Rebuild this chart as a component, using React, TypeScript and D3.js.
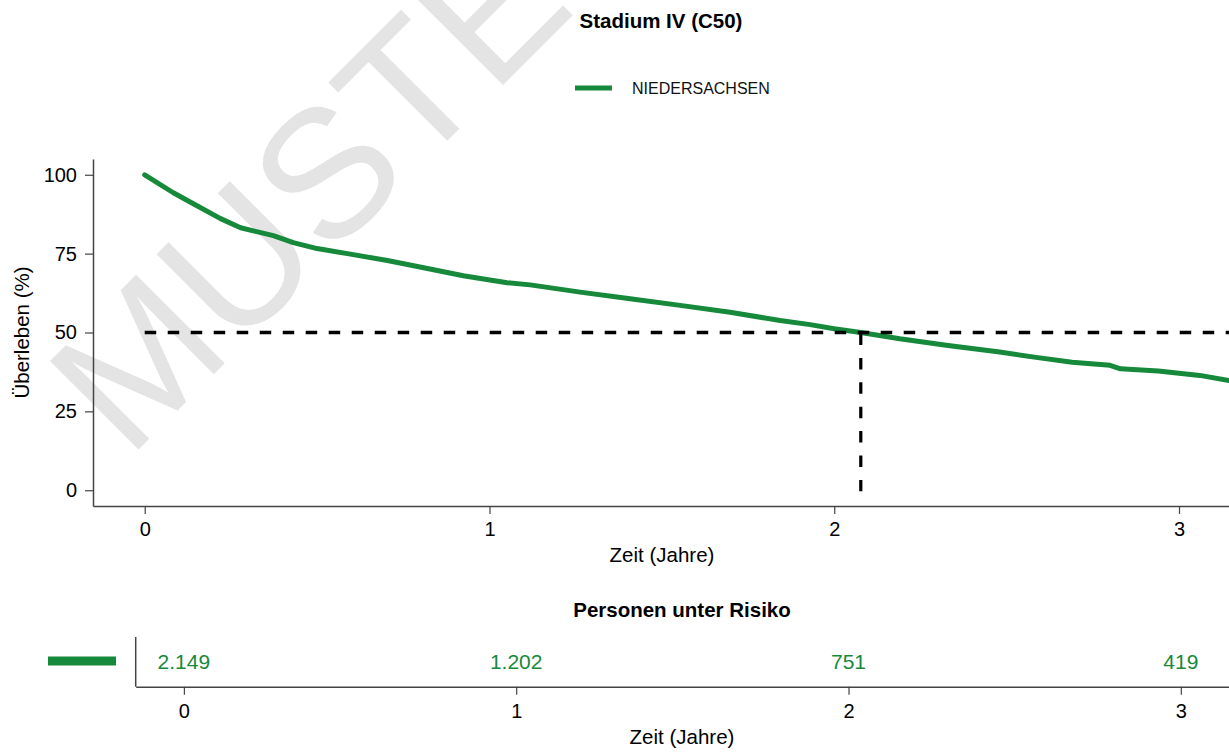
import { useEffect, useRef } from "react";
import * as d3 from "d3";

const WIDTH = 1229;
const HEIGHT = 752;
const GREEN = "#16893a";
const AXIS = "#444";
const FONT = "'Liberation Sans', Arial, Helvetica, sans-serif";

// Kaplan-Meier curve (years, % surviving)
const times = [
  0, 0.083, 0.141, 0.22, 0.278, 0.373, 0.431, 0.5, 0.588, 0.704, 0.82, 0.924, 1.051, 1.118, 1.263,
  1.408, 1.553, 1.698, 1.843, 1.93, 2.0, 2.077, 2.19, 2.33, 2.48, 2.58, 2.69, 2.8, 2.83, 2.94, 3.06, 3.145,
];
const survival = [
  100, 94.3, 90.8, 86.1, 83.2, 80.7, 78.5, 76.6, 75.0, 72.8, 70.3, 68.0, 65.8, 65.1, 62.8,
  60.7, 58.6, 56.4, 53.8, 52.5, 51.2, 50.0, 48.0, 45.9, 43.8, 42.2, 40.6, 39.6, 38.5, 37.8, 36.4, 34.8,
];
const medianTime = 2.077;
const seriesName = "NIEDERSACHSEN";

const xTicks = [0, 1, 2, 3];
const yTicks = [0, 25, 50, 75, 100];
const riskTimes = [0, 1, 2, 3];
const riskCounts = ["2.149", "1.202", "751", "419"];

export default function App() {
  const svgRef = useRef<SVGSVGElement>(null);

  useEffect(() => {
    const svg = d3.select(svgRef.current);
    svg.selectAll("*").remove();

    const x = d3.scaleLinear().domain([-0.15, 3.145]).range([93, WIDTH]);
    const y = d3.scaleLinear().domain([-5, 105]).range([506, 159]);
    const xr = d3.scaleLinear().domain([-0.145, 3.145]).range([135.7, WIDTH]);

    svg.append("rect").attr("width", WIDTH).attr("height", HEIGHT).attr("fill", "#fff");

    // watermark (runs off the top edge, as in the original)
    svg
      .append("text")
      .attr("transform", "translate(128,460) rotate(-45)")
      .attr("font-family", FONT)
      .attr("font-size", 182)
      .attr("fill", "#e4e4e4")
      .text("MUSTER");

    // title + legend
    svg
      .append("text")
      .attr("x", 661)
      .attr("y", 28)
      .attr("text-anchor", "middle")
      .attr("font-family", FONT)
      .attr("font-weight", "bold")
      .attr("font-size", 20.5)
      .text("Stadium IV (C50)");

    svg.append("line")
      .attr("x1", 575).attr("x2", 612).attr("y1", 88).attr("y2", 88)
      .attr("stroke", GREEN).attr("stroke-width", 5);
    svg
      .append("text")
      .attr("x", 632)
      .attr("y", 93.5)
      .attr("font-family", FONT)
      .attr("font-size", 16)
      .attr("fill", "#111")
      .text(seriesName);

    // curve
    const pts = times.map((t, i) => [t, survival[i]] as [number, number]);
    const line = d3
      .line<[number, number]>()
      .x((d) => x(d[0]))
      .y((d) => y(d[1]));
    svg
      .append("path")
      .datum(pts)
      .attr("fill", "none")
      .attr("stroke", GREEN)
      .attr("stroke-width", 5)
      .attr("stroke-linecap", "round")
      .attr("stroke-linejoin", "round")
      .attr("d", line);

    // median lines
    svg.append("line")
      .attr("x1", x(0)).attr("x2", WIDTH).attr("y1", y(50)).attr("y2", y(50))
      .attr("stroke", "#000").attr("stroke-width", 3.7).attr("stroke-dasharray", "11.5,11.5");
    svg.append("line")
      .attr("x1", x(medianTime)).attr("x2", x(medianTime)).attr("y1", y(50) + 1).attr("y2", y(0) + 1)
      .attr("stroke", "#000").attr("stroke-width", 3.2).attr("stroke-dasharray", "11.5,12.9");

    const styleAxis = (a: d3.Selection<SVGGElement, unknown, null, undefined>, fs: number) => {
      a.select(".domain").attr("stroke", AXIS).attr("stroke-width", 1.5);
      a.selectAll(".tick line").attr("stroke", AXIS).attr("stroke-width", 1.2);
      a.selectAll(".tick text").attr("fill", "#000").attr("font-size", fs).attr("font-family", FONT);
    };

    // main axes
    const gx = svg
      .append("g")
      .attr("transform", `translate(0,${y.range()[0]})`)
      .call(d3.axisBottom(x).tickValues(xTicks).tickSize(8).tickPadding(8).tickSizeOuter(0).tickFormat(d3.format("d")));
    styleAxis(gx, 20);

    const gy = svg
      .append("g")
      .attr("transform", `translate(${x.range()[0]},0)`)
      .call(d3.axisLeft(y).tickValues(yTicks).tickSize(8).tickPadding(8).tickSizeOuter(0));
    styleAxis(gy, 20);

    svg
      .append("text")
      .attr("x", 662)
      .attr("y", 562)
      .attr("text-anchor", "middle")
      .attr("font-family", FONT)
      .attr("font-size", 20.5)
      .text("Zeit (Jahre)");

    svg
      .append("text")
      .attr("transform", `translate(29,${y(50)}) rotate(-90)`)
      .attr("text-anchor", "middle")
      .attr("font-family", FONT)
      .attr("font-size", 20.5)
      .text("Überleben (%)");

    // risk table
    svg
      .append("text")
      .attr("x", 682)
      .attr("y", 617)
      .attr("text-anchor", "middle")
      .attr("font-family", FONT)
      .attr("font-weight", "bold")
      .attr("font-size", 20.5)
      .text("Personen unter Risiko");

    svg.append("line")
      .attr("x1", 48).attr("x2", 116).attr("y1", 661).attr("y2", 661)
      .attr("stroke", GREEN).attr("stroke-width", 9);

    svg.append("line")
      .attr("x1", xr.range()[0]).attr("x2", xr.range()[0]).attr("y1", 637).attr("y2", 686.7)
      .attr("stroke", AXIS).attr("stroke-width", 1.5);

    svg
      .append("g")
      .selectAll("text")
      .data(riskTimes)
      .join("text")
      .attr("x", (d) => xr(d))
      .attr("y", 669)
      .attr("text-anchor", "middle")
      .attr("font-family", FONT)
      .attr("font-size", 21)
      .attr("fill", GREEN)
      .text((d, i) => riskCounts[i]);

    const gr = svg
      .append("g")
      .attr("transform", "translate(0,686.7)")
      .call(d3.axisBottom(xr).tickValues(riskTimes).tickSize(8).tickPadding(9).tickSizeOuter(0).tickFormat(d3.format("d")));
    styleAxis(gr, 20);

    svg
      .append("text")
      .attr("x", 682)
      .attr("y", 744)
      .attr("text-anchor", "middle")
      .attr("font-family", FONT)
      .attr("font-size", 20.5)
      .text("Zeit (Jahre)");
  }, []);

  return (
    <svg
      ref={svgRef}
      width={WIDTH}
      height={HEIGHT}
      style={{ position: "absolute", left: 0, top: 0, display: "block" }}
    />
  );
}
